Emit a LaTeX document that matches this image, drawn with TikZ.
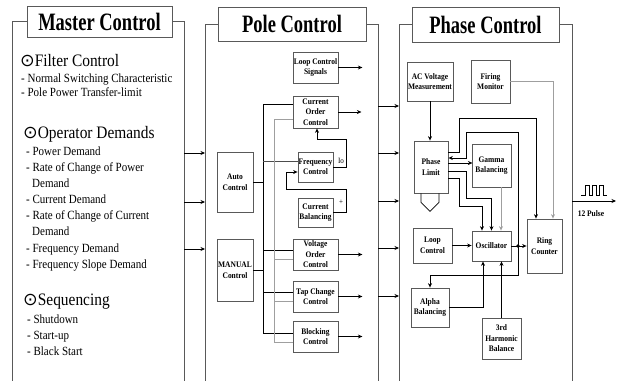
\documentclass[tikz,border=0pt]{standalone}
\usepackage{fontspec}
\setmainfont{Liberation Serif}[FakeStretch=0.88]
\newfontfamily\titlefont{Liberation Serif}[FakeStretch=0.74]
\newfontfamily\dotfont{DejaVu Sans}
\usetikzlibrary{arrows.meta,positioning}

\begin{document}
\begin{tikzpicture}[x=1pt, y=-1pt,
  panel/.style={draw=gray!70!black, line width=0.9pt},
  ttlbox/.style={draw=gray!70!black, line width=0.9pt, fill=white, inner sep=0pt,
                 font=\titlefont\bfseries\fontsize{25}{28}\selectfont},
  blkbox/.style={draw=gray!70!black, line width=0.8pt, inner sep=0pt, align=center,
                 font=\bfseries\fontsize{8.5}{10.5}\selectfont},
  hdr/.style={anchor=base west, inner sep=0pt, font=\fontsize{17.5}{20}\selectfont},
  itm/.style={anchor=base west, inner sep=0pt, font=\fontsize{12.5}{15}\selectfont},
  arr/.style={-{Stealth[length=4.5pt,width=4pt]}, line width=0.7pt},
  wire/.style={line width=0.7pt},
  gwire/.style={line width=0.8pt, draw=gray!75}
]
\useasboundingbox (0,0) rectangle (625,381);

% three panels
\node[ttlbox, minimum width=145pt, minimum height=31pt] (mc) at (99.5,21.5) {Master Control};
\draw[panel] (mc.west) -| (12,381);
\draw[panel] (mc.east) -| (184,381);
\node[ttlbox, minimum width=148pt, minimum height=34pt] (pc) at (292,24) {Pole Control};
\draw[panel] (pc.west) -| (205,381);
\draw[panel] (pc.east) -| (378,381);
\node[ttlbox, minimum width=147pt, minimum height=35pt] (phc) at (485.5,24.5) {Phase Control};
\draw[panel] (phc.west) -| (399,381);
\draw[panel] (phc.east) -| (572,381);

\foreach \y in {153,202,249} \draw[arr] (184,\y) -- (205,\y);
\foreach \y in {106,153,201,248,296} \draw[arr] (378,\y) -- (399,\y);

% master control
\node[hdr] (filt) at (20,66) {{\dotfont ⊙}Filter Control};
\node[itm] (filt1) at (21,82) {- Normal Switching Characteristic};
\node[itm] (filt2) at (21,96) {- Pole Power Transfer-limit};
\node[hdr] (oper) at (23,138) {{\dotfont ⊙}Operator Demands};
\node[itm] (oper1) at (26,155) {- Power Demand};
\node[itm] (oper2) at (26,171) {- Rate of Change of Power};
\node[itm] (oper3) at (32,187) {Demand};
\node[itm] (oper4) at (26,203) {- Current Demand};
\node[itm] (oper5) at (26,219) {- Rate of Change of Current};
\node[itm] (oper6) at (32,235) {Demand};
\node[itm] (oper7) at (26,252) {- Frequency Demand};
\node[itm] (oper8) at (26,268) {- Frequency Slope Demand};
\node[hdr] (seq) at (23,305) {{\dotfont ⊙}Sequencing};
\node[itm] (seq1) at (27,323) {- Shutdown};
\node[itm] (seq2) at (27,339) {- Start-up};
\node[itm] (seq3) at (27,355) {- Black Start};

% pole control
\node[blkbox, minimum width=45pt, minimum height=31pt] (lcs) at (315.5,67.5) {Loop Control\\Signals};
\node[blkbox, minimum width=45pt, minimum height=32pt] (coc) at (315.5,112) {Current\\Order\\Control};
\node[blkbox, minimum width=35pt, minimum height=30pt] (frq) at (315.5,167) {Frequency\\Control};
\node[blkbox, minimum width=35pt, minimum height=29pt] (cbal) at (315.5,212.5) {Current\\Balancing};
\node[blkbox, minimum width=36pt, minimum height=60pt] (auto) at (235,182) {Auto\\Control};
\node[blkbox, minimum width=36pt, minimum height=62pt] (man) at (235,270) {MANUAL\\Control};
\node[blkbox, minimum width=45pt, minimum height=31pt] (voc) at (315.5,254.5) {Voltage\\Order\\Control};
\node[blkbox, minimum width=45pt, minimum height=31pt] (tap) at (315.5,296.5) {Tap Change\\Control};
\node[blkbox, minimum width=45pt, minimum height=31pt] (blkc) at (315.5,336.5) {Blocking\\Control};

\draw[arr] (lcs.east) -- ++(24,0);
\draw[arr] (coc.east) -- ++(23,0);
\draw[arr] (voc.east) -- ++(24,0);
\draw[arr] (tap.east) -- ++(24,0);
\draw[arr] (blkc.east) -- ++(24,0);
\draw[arr] (frq.east) -- ++(13,0) -- ++(0,-28) -| ([xshift=1.5pt]coc.south);
\draw[arr] (cbal.east) -- ++(13,0) |- (286,189) |- ([yshift=-5pt]frq.west);
\node[inner sep=0pt, font=\fontsize{8}{9}\selectfont] (io) at (341,161) {Io};
\node[inner sep=0pt, font=\fontsize{8}{9}\selectfont] (plus) at (341,202) {+};

\draw[wire] (coc.west |- 0,104) -| (263,333) -- (blkc.west |- 0,333);
\draw[wire] (auto.east) -- (auto.east -| 263,0);
\draw[wire] (man.east) -- (man.east -| 263,0);
\draw[wire] (263,250) -- (voc.west |- 0,250);
\draw[wire] (263,292) -- (tap.west |- 0,292);
\draw[wire, draw=gray!60!black] (263,161) -- (frq.west |- 0,161);
\draw[gwire] (coc.west |- 0,119) -| (274,342) -- (blkc.west |- 0,342);
\draw[gwire] (274,259) -- (voc.west |- 0,259);
\draw[gwire] (274,301) -- (tap.west |- 0,301);

% phase control
\node[blkbox, minimum width=46pt, minimum height=39pt] (acv) at (430,81.5) {AC Voltage\\Measurement};
\node[blkbox, minimum width=39pt, minimum height=43pt] (fire) at (490.5,81.5) {Firing\\Monitor};
\node[blkbox, minimum width=34pt, minimum height=52pt] (plim) at (431,167) {Phase\\Limit};
\node[blkbox, minimum width=39pt, minimum height=43pt] (gam) at (491.5,165.5) {Gamma\\Balancing};
\node[blkbox, minimum width=39pt, minimum height=35pt] (lpc) at (432.5,245.5) {Loop\\Control};
\node[blkbox, minimum width=39pt, minimum height=30pt] (osc) at (491.5,246) {Oscillator};
\node[blkbox, minimum width=35pt, minimum height=54pt] (ring) at (544.5,246) {Ring\\Counter};
\node[blkbox, minimum width=38pt, minimum height=39pt] (alpha) at (430,307.5) {Alpha\\Balancing};
\node[blkbox, minimum width=39pt, minimum height=41pt] (harm) at (501.5,338.5) {3rd\\Harmonic\\Balance};
\coordinate (jn) at (518,246);

\draw[arr] (acv.south) -- (acv.south |- plim.north);
\draw[arr, gwire] (fire.east) -| ([xshift=8.5pt]ring.north);
\draw[arr] ([yshift=15pt]plim.east) -| (459,118) -| ([xshift=-8.5pt]ring.north);
\draw[arr] (jn) |- (466,132) |- ([yshift=9pt]plim.east);
\draw[arr] ([yshift=4pt]plim.east) -- ++(24,0);
\draw[arr] ([yshift=-4pt]plim.east) -| (466,198) -| (osc.north);
\draw[arr] ([yshift=-11pt]plim.east) -| (459,206) -| ([xshift=-9.5pt]osc.north);
\draw[arr, gwire] ([xshift=9.5pt]gam.south) -- ([xshift=9.5pt]osc.north);
\draw[arr] (lpc.east) -- (lpc.east -| osc.west);
\draw[arr] (osc.east) -- (ring.west);
\fill (jn) circle (1.8pt);
\draw[arr] (jn) -- ++(0,29) -| (alpha.north);
\draw[arr] (alpha.east) -| ([xshift=-8.5pt]osc.south);
\draw[arr] (harm.north) -- (harm.north |- osc.south);
\draw[wire] ([xshift=-10pt]plim.south) -- ++(0,9) -- ++(9,9) -- ++(9,-9) -- ++(0,-9);

% output
\coordinate (pout) at (616,201);
\draw[arr] (572,201) -- (pout);
\draw[wire] (581,195) -- (585,195) -- (585,185) -- (589,185) -- (589,195) -- (592,195)
  -- (592,185) -- (596,185) -- (596,195) -- (599,195) -- (599,185) -- (603,185)
  -- (603,195) -- (607,195);
\node[inner sep=0pt, font=\bfseries\fontsize{8.5}{10}\selectfont] (pulse) at (591,214) {12 Pulse};
\end{tikzpicture}
\end{document}
